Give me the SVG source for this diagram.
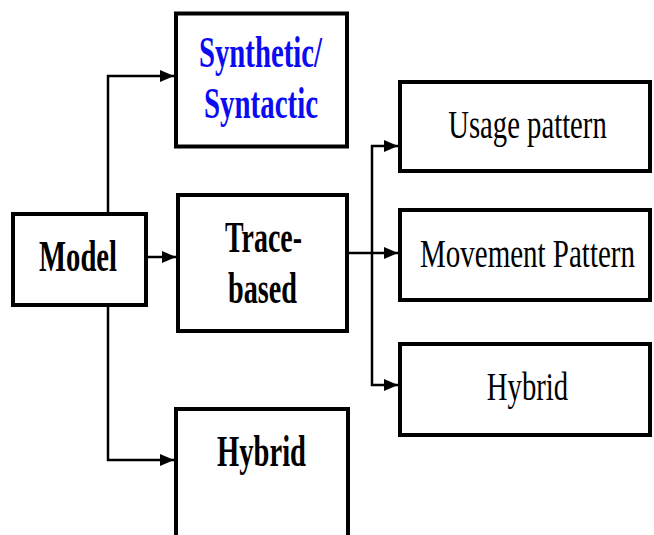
<svg xmlns="http://www.w3.org/2000/svg" width="654" height="535" viewBox="0 0 654 535">
<defs>
<style>
.box{fill:#fff;stroke:#000;stroke-width:4}
.b{font-family:"Liberation Serif","Times New Roman",serif;font-weight:bold;fill:#000;text-anchor:middle}
.n{font-family:"Liberation Serif","Times New Roman",serif;fill:#000;text-anchor:middle}
.blue{fill:#0b0bf2}
.c{fill:none;stroke:#000;stroke-width:2.5}
</style>
<marker id="ah" markerUnits="userSpaceOnUse" markerWidth="16" markerHeight="14" refX="14" refY="6" orient="auto">
<path d="M0,0 L14,6 L0,12 z" fill="#000"/>
</marker>
</defs>
<rect width="654" height="535" fill="#fff"/>
<g id="connectors">
<path class="c" d="M108,212 V76 H174" marker-end="url(#ah)"/>
<path class="c" d="M148,257 H176" marker-end="url(#ah)"/>
<path class="c" d="M108,307 V460 H174" marker-end="url(#ah)"/>
<path class="c" d="M349,253 H398" marker-end="url(#ah)"/>
<path class="c" d="M372,253 V146 H398" marker-end="url(#ah)"/>
<path class="c" d="M372,253 V385 H398" marker-end="url(#ah)"/>
</g>
<g id="synthetic">
<rect class="box" x="176" y="13.5" width="171" height="133"/>
<text class="b blue" font-size="44" transform="translate(260.5,67) scale(0.654,1)">Synthetic/</text>
<text class="b blue" font-size="44" transform="translate(261,118) scale(0.657,1)">Syntactic</text>
</g>
<g id="model">
<rect class="box" x="13" y="214" width="133" height="91"/>
<text class="b" font-size="45" transform="translate(78,271) scale(0.637,1)">Model</text>
</g>
<g id="trace">
<rect class="box" x="178" y="195" width="169" height="136"/>
<text class="b" font-size="45" transform="translate(263.5,252) scale(0.62,1)">Trace-</text>
<text class="b" font-size="45" transform="translate(262.5,303) scale(0.627,1)">based</text>
</g>
<g id="hybrid-model">
<rect class="box" x="176" y="409" width="172" height="140"/>
<text class="b" font-size="44" transform="translate(261.5,466) scale(0.65,1)">Hybrid</text>
</g>
<g id="usage">
<rect class="box" x="400" y="82" width="250" height="89"/>
<text class="n" font-size="41" transform="translate(527.5,138) scale(0.70,1)">Usage pattern</text>
</g>
<g id="movement">
<rect class="box" x="400" y="210" width="250" height="90"/>
<text class="n" font-size="40" transform="translate(527.5,267) scale(0.725,1)">Movement Pattern</text>
</g>
<g id="hybrid-trace">
<rect class="box" x="400" y="344" width="250" height="91"/>
<text class="n" font-size="41" transform="translate(527.5,400) scale(0.70,1)">Hybrid</text>
</g>
</svg>
